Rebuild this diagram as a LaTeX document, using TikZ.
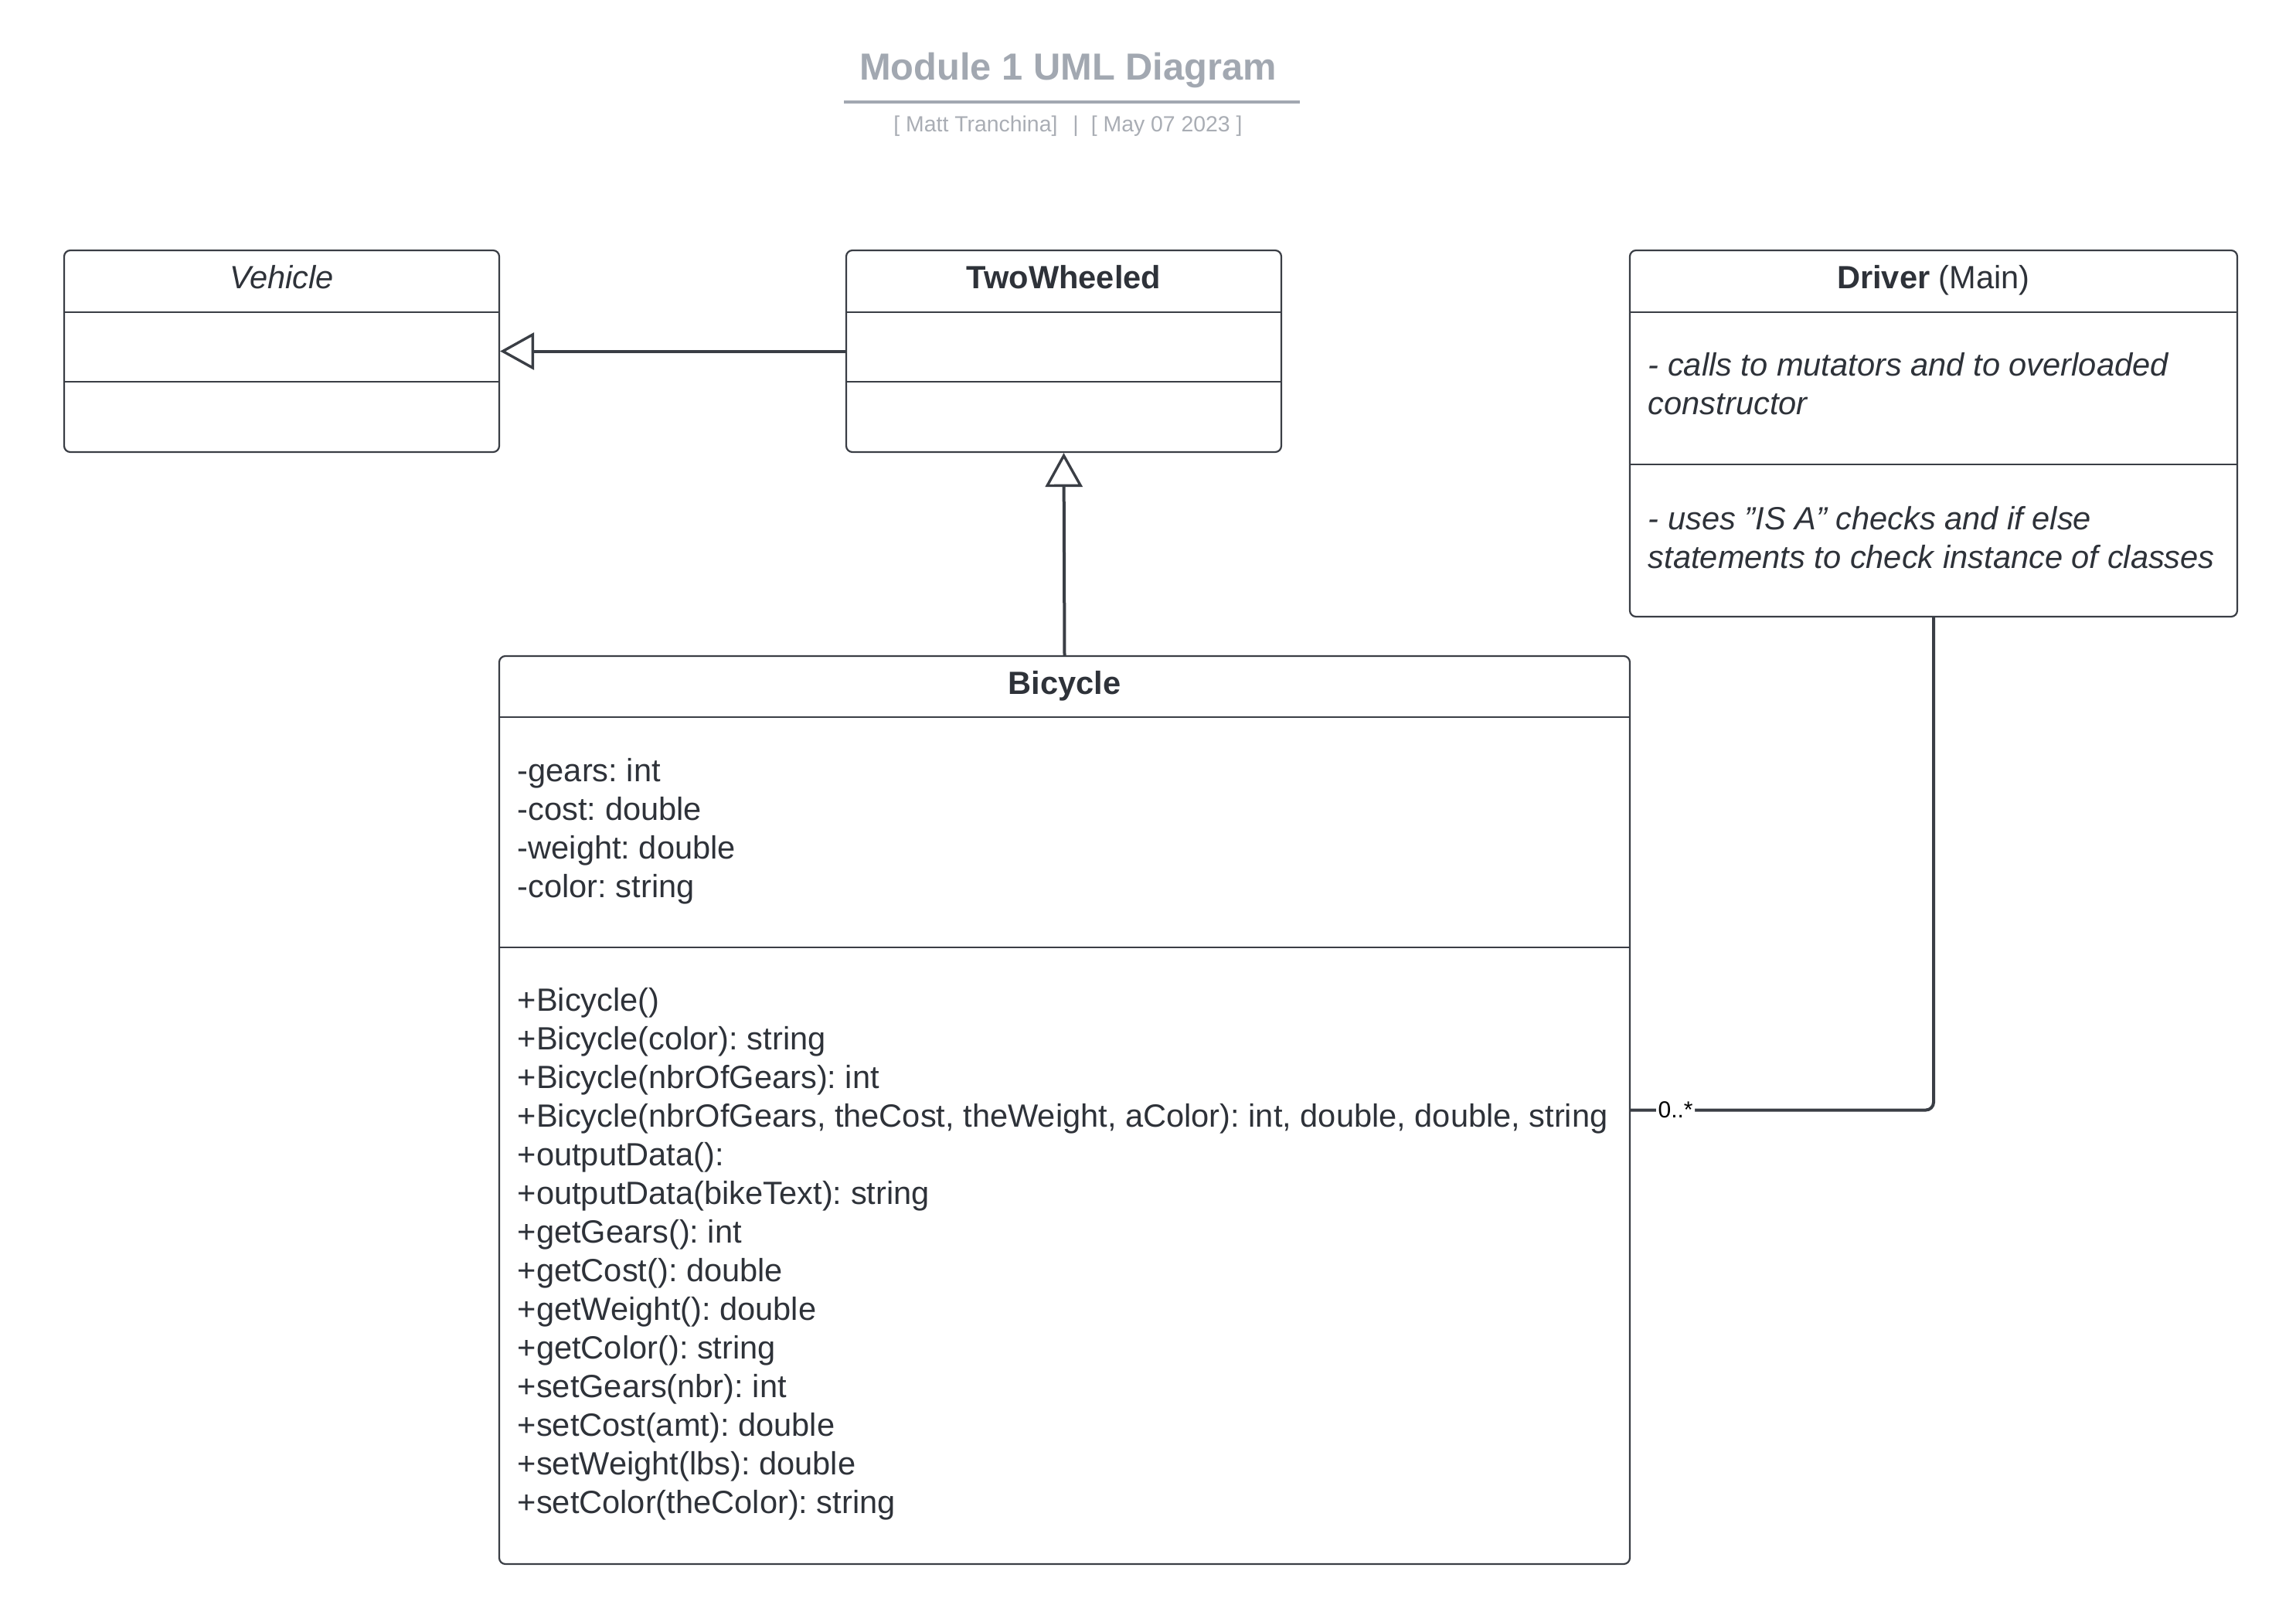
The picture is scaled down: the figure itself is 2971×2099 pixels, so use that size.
\documentclass[tikz,border=0pt]{standalone}
\usepackage{fontspec}
\setmainfont{Liberation Sans}
\usetikzlibrary{arrows.meta}
\definecolor{ink}{HTML}{2E3239}
\definecolor{edge}{HTML}{3A3E45}
\definecolor{titlegray}{HTML}{A2A8B1}
\definecolor{subgray}{HTML}{A9ADB4}
\frenchspacing

\begin{document}
\begin{tikzpicture}[x=0.25pt,y=-0.25pt,
  classbox/.style={draw=edge, line width=0.55pt, rounded corners=2pt, inner sep=0pt},
  divider/.style={draw=edge, line width=0.55pt},
  conn/.style={draw=edge, line width=1pt},
  inherit/.style={conn, -{Triangle[open, length=11pt, width=12pt, line width=0.85pt]}},
  txt/.style={font=\fontsize{10.4}{12.5}\selectfont, text=ink, inner sep=0pt},
  line/.style={txt, anchor=base west},
  head/.style={txt, anchor=base},
]
\useasboundingbox (0,0) rectangle (2971,2099);

% heading
\node[anchor=base, inner sep=0pt, text=titlegray, font=\fontsize{12.2}{14}\selectfont\bfseries]
  (title) at (1382,104) {Module 1 UML Diagram};
\draw[titlegray, line width=0.8pt] (1092,132) -- (1682,132);
\node[anchor=base, inner sep=0pt, text=subgray, font=\fontsize{7.1}{8.5}\selectfont]
  (author) at (1382,170) {[ Matt Tranchina]\hspace{5pt}|\hspace{4pt}[ May 07 2023 ]};

% class boxes
\node[classbox, minimum width=140.75pt, minimum height=65.25pt] (veh) at (364.5,454.5) {};
\node[classbox, minimum width=140.75pt, minimum height=65.25pt] (two) at (1376.5,454.5) {};
\node[classbox, minimum width=196.5pt, minimum height=118.5pt] (drv) at (2502,561) {};
\node[classbox, minimum width=365.75pt, minimum height=293.75pt] (bike) at (1377.5,1436.5) {};

% compartments
\draw[divider] (83,404) -- (646,404);
\draw[divider] (83,494) -- (646,494);
\draw[divider] (1095,404) -- (1658,404);
\draw[divider] (1095,494) -- (1658,494);
\draw[divider] (2109,404) -- (2895,404);
\draw[divider] (2109,601) -- (2895,601);
\draw[divider] (646,928) -- (2109,928);
\draw[divider] (646,1226) -- (2109,1226);

% class names
\node[head] (vehname) at (364.5,373) {\itshape Vehicle};
\node[head] (twoname) at (1376.5,373) {\bfseries TwoWheeled};
\node[head] (drvname) at (2502,373) {{\bfseries Driver} (Main)};
\node[head] (bikename) at (1377.5,898) {\bfseries Bicycle};

% Driver notes
\node[line] (d1) at (2132,486) {\itshape - calls to mutators and to overloaded};
\node[line] (d2) at (2132,536) {\itshape constructor};
\node[line] (d3) at (2132,685) {\itshape - uses \symbol{34}IS A\symbol{34} checks and if else};
\node[line] (d4) at (2132,735) {\itshape statements to check instance of classes};

% Bicycle attributes
\foreach \t [count=\i from 0] in {-gears: int, -cost: double, -weight: double, -color: string}
  \node[line] (attr\i) at (669,1011+50*\i) {\t};

% Bicycle operations
\foreach \t [count=\i from 0] in {
  +Bicycle(),
  +Bicycle(color): string,
  +Bicycle(nbrOfGears): int,
  {+Bicycle(nbrOfGears, theCost, theWeight, aColor): int, double, double, string},
  +outputData():,
  +outputData(bikeText): string,
  +getGears(): int,
  +getCost(): double,
  +getWeight(): double,
  +getColor(): string,
  +setGears(nbr): int,
  +setCost(amt): double,
  +setWeight(lbs): double,
  +setColor(theColor): string}
  \node[line] (op\i) at (669,1308+50*\i) {\t};

% relationships
\draw[inherit] (two.west) -- (veh.east);
\draw[inherit] (bike.north) -- (two.south);
\draw[conn, rounded corners=2.5pt] (drv.south) |- (bike.east)
  node[pos=0.926, fill=white, inner xsep=0.6pt, inner ysep=0.5pt, text=black,
       font=\fontsize{7.5}{9}\selectfont] (mult) {0..*};
\end{tikzpicture}
\end{document}
